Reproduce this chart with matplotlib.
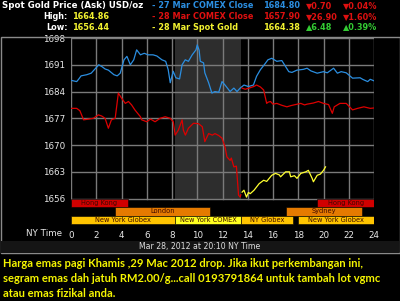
import matplotlib
matplotlib.use('Agg')
import matplotlib.pyplot as plt
from matplotlib.patches import Rectangle

# data (NY time hours, USD/oz)
blue_x = [0.05, 0.45, 0.6, 0.8, 1.25, 1.6, 1.9, 2.2, 2.46, 2.7, 2.96, 3.4, 3.66, 3.9, 4.2,
          4.43, 4.7, 4.97, 5.2, 5.5, 5.8, 6.1, 6.5, 6.8, 7.2, 7.5, 7.7, 7.86, 8.1, 8.3,
          8.6, 8.8, 9.05, 9.3, 9.6, 9.9, 10.0, 10.15, 10.24, 10.5, 10.6, 10.9, 11.16, 11.4,
          11.7, 11.96, 12.2, 12.6, 12.9, 13.15, 13.4, 13.7, 14.05, 14.45, 14.7, 15.0, 15.4,
          15.6, 15.9, 16.3, 16.7, 17.25, 17.5, 17.9, 18.4, 18.7, 19.0, 19.5, 20.0, 20.3,
          20.8, 21.1, 21.4, 21.8, 22.3, 22.9, 23.1, 23.5, 23.7, 24.0]
blue_y = [1686.9, 1686.6, 1687.2, 1688.1, 1688.4, 1688.8, 1689.9, 1691.0, 1690.5, 1689.9, 1689.6,
          1688.4, 1688.1, 1688.8, 1692.3, 1693.2, 1691.0, 1692.3, 1694.9, 1693.6, 1694.0, 1693.6,
          1693.6, 1693.3, 1692.3, 1691.9, 1689.7, 1686.3, 1689.3, 1687.6, 1687.3, 1691.0, 1692.3,
          1691.9, 1693.6, 1694.9, 1696.2, 1694.8, 1691.9, 1691.5, 1688.9, 1686.3, 1683.6, 1684.0,
          1683.8, 1686.6, 1685.7, 1684.0, 1684.9, 1684.0, 1684.9, 1685.7, 1685.3, 1685.7, 1688.0,
          1689.7, 1691.4, 1692.3, 1692.7, 1691.9, 1692.1, 1689.2, 1689.0, 1689.6, 1689.8, 1690.1,
          1689.4, 1688.8, 1689.2, 1688.9, 1690.1, 1688.8, 1689.2, 1688.9, 1687.5, 1687.6, 1687.2,
          1686.6, 1687.2, 1686.8]

red1_x = [0.05, 0.45, 0.7, 1.0, 1.4, 1.77, 2.17, 2.43, 2.7, 2.96, 3.2, 3.5, 3.75, 4.0, 4.3,
          4.55, 4.8, 5.06, 5.5, 5.6, 6.0, 6.3, 6.66, 7.06, 7.46, 7.86, 8.1, 8.25, 8.5, 8.8,
          8.9, 9.06, 9.3, 9.7, 10.1, 10.4, 10.6, 10.9, 11.2, 11.4, 11.7, 11.96, 12.2, 12.35,
          12.6, 12.7, 12.9, 13.1, 13.27, 13.4, 13.45]
red1_y = [1679.6, 1679.6, 1679.0, 1676.6, 1676.8, 1677.0, 1677.9, 1677.6, 1677.0, 1674.4, 1676.6,
          1677.0, 1683.6, 1682.3, 1680.9, 1681.4, 1680.5, 1679.2, 1677.4, 1676.6, 1676.1, 1676.8,
          1676.1, 1677.0, 1677.4, 1677.0, 1676.1, 1672.6, 1673.9, 1676.6, 1673.9, 1672.6, 1674.4,
          1675.7, 1675.6, 1674.8, 1670.9, 1673.0, 1672.6, 1673.0, 1672.5, 1671.8, 1669.5, 1666.9,
          1666.0, 1666.6, 1664.3, 1664.5, 1656.9, 1656.4, 1657.0]

red2_x = [13.55, 13.8, 14.1, 14.47, 14.7, 15.0, 15.26, 15.5, 15.6, 15.8, 16.0, 16.3, 16.7, 17.1,
          17.4, 17.65, 18.2, 18.5, 18.7, 19.2, 19.6, 20.0, 20.4, 20.7, 20.85, 21.3, 21.8, 22.3,
          22.7, 23.2, 23.7, 24.0]
red2_y = [1684.9, 1684.6, 1684.9, 1685.3, 1685.7, 1685.2, 1684.4, 1680.9, 1681.2, 1681.4, 1680.7,
          1680.9, 1680.4, 1680.0, 1680.3, 1680.5, 1680.9, 1680.5, 1680.7, 1681.0, 1681.4, 1680.9,
          1680.6, 1678.3, 1680.0, 1680.9, 1680.9, 1679.2, 1679.6, 1680.0, 1679.6, 1679.7]

gold_x = [13.55, 13.7, 13.9, 14.05, 14.2, 14.5, 14.9, 15.26, 15.5, 15.9, 16.2, 16.5, 16.6, 17.0,
          17.3, 17.4, 17.7, 17.9, 18.2, 18.6, 18.8, 19.1, 19.2, 19.5, 19.75, 20.0, 20.16]
gold_y = [1657.7, 1658.2, 1656.4, 1657.6, 1657.3, 1658.2, 1659.9, 1660.8, 1660.5, 1662.1, 1662.6,
          1662.2, 1661.7, 1663.0, 1663.0, 1661.7, 1662.0, 1661.3, 1662.6, 1663.0, 1663.4, 1661.3,
          1660.4, 1662.1, 1662.4, 1663.4, 1664.3]

yticks = [1656, 1663, 1670, 1677, 1684, 1691, 1698]
xticks = list(range(0, 25, 2))

# trading sessions: (row, start, end, label, colour)
sessions = [
    (0, 0, 4.5, 'Hong Kong', '#d00000'),
    (0, 19.5, 24, 'Hong Kong', '#d00000'),
    (1, 3.5, 11.0, 'London', '#e57a00'),
    (1, 17.0, 23.05, 'Sydney', '#e57a00'),
    (2, 0, 8.25, 'New York Globex', '#ffc400'),
    (2, 8.25, 13.5, 'New York COMEX', '#ffff20'),
    (2, 13.5, 17.6, 'NY Globex', '#ffc400'),
    (2, 18.0, 24, 'New York Globex', '#ffc400'),
]

W, H = 400, 301
fig = plt.figure(figsize=(4, 3.01), dpi=100, facecolor='black')


def fx(x):
    return x / W


def fy(y):
    return 1 - y / H


# panel frame
fig.patches.append(Rectangle((fx(0.5), fy(253)), fx(399), (253 - 37) / H, transform=fig.transFigure,
                             fill=False, edgecolor='#8a8a8a', lw=1))
fig.patches.append(Rectangle((fx(1), fy(252.5)), fx(398), 12 / H, transform=fig.transFigure,
                             facecolor='#151515', edgecolor='none'))

ax = fig.add_axes([fx(71), fy(225), (374 - 71) / W, (225 - 38) / H])
ax.set_facecolor('black')
ax.set_xlim(0, 24)
ax.set_ylim(1649.1, 1698)
for s in ax.spines.values():
    s.set_visible(False)

# COMEX hours shade
ax.add_patch(Rectangle((8.25, 1656), 13.5 - 8.25, 1698 - 1656, facecolor='#2d2d2d', edgecolor='none', zorder=0))

for v in yticks:
    ax.plot([0, 24], [v, v], color='#7a7a7a', lw=1, zorder=1)
for h in xticks:
    ax.plot([h, h], [1656, 1698], color='#7a7a7a', lw=1, zorder=1)

ax.plot(blue_x, blue_y, color='#2b8ee0', lw=0.9, zorder=3)
ax.plot(red1_x, red1_y, color='#dd0000', lw=0.9, zorder=3)
ax.plot(red2_x, red2_y, color='#dd0000', lw=0.9, zorder=3)
ax.plot(gold_x, gold_y, color='#ffff30', lw=0.9, zorder=4)

row_h = 2.23
for row, a, b, name, col in sessions:
    top = 1656 - row * row_h
    ax.add_patch(Rectangle((a, top - row_h), b - a, row_h, facecolor=col, edgecolor='black', lw=0.4, zorder=2))
    ax.text((a + b) / 2, top - row_h / 2, name, ha='center', va='center', fontsize=4.8,
            color='#3c0800', zorder=5)

ax.set_yticks(yticks)
ax.set_xticks(xticks)
ax.set_yticklabels([str(v) for v in yticks], color='#e8e8e8', fontsize=6.3)
ax.set_xticklabels([str(v) for v in xticks], color='#e8e8e8', fontsize=6.3)
ax.tick_params(length=0, pad=4)

fig.text(fx(62), fy(233), 'NY Time', color='#e8e8e8', fontsize=6.3, ha='right', va='center')
fig.text(fx(200), fy(246.5), 'Mar 28, 2012 at 20:10 NY Time', color='#e0e0e0', fontsize=5.6,
         ha='center', va='center')

# header
bold = dict(fontweight='bold', va='center', fontsize=5.9)
fig.text(fx(2), fy(6), 'Spot Gold Price (Ask) USD/oz', color='white', fontweight='bold',
         va='center', fontsize=6.2)
fig.text(fx(68), fy(16.5), 'High:', color='white', ha='right', **bold)
fig.text(fx(72), fy(16.5), '1664.86', color='#f2f230', **bold)
fig.text(fx(68), fy(27), 'Low:', color='white', ha='right', **bold)
fig.text(fx(72), fy(27), '1656.44', color='#f2f230', **bold)

legend_rows = [
    ('- 27 Mar COMEX Close', '#2b8ee0', '1684.80', '\u25bc0.70', '\u25bc0.04%', '#dd1010'),
    ('- 28 Mar COMEX Close', '#dd1010', '1657.90', '\u25bc26.90', '\u25bc1.60%', '#dd1010'),
    ('- 28 Mar Spot Gold', '#f2f230', '1664.38', '\u25b26.48', '\u25b20.39%', '#33cc33'),
]
for i, (lab, col, val, chg, pct, ccol) in enumerate(legend_rows):
    y = fy(6 + i * 10.5)
    fig.text(fx(152), y, lab, color=col, **bold)
    fig.text(fx(263), y, val, color=col, **bold)
    fig.text(fx(306), y, chg, color=ccol, **bold)
    fig.text(fx(343), y, pct, color=ccol, **bold)

# caption
cap = ['Harga emas pagi Khamis ,29 Mac 2012 drop. Jika ikut perkembangan ini,',
       'segram emas dah jatuh RM2.00/g...call 0193791864 untuk tambah lot vgmc',
       'atau emas fizikal anda.']
for i, line in enumerate(cap):
    fig.text(fx(3), fy(263.5 + i * 15), line, color='#f5f500', fontsize=8.05, fontweight='bold',
             family='Lato', va='center')

fig.savefig('out.png', dpi=100, facecolor='black')
